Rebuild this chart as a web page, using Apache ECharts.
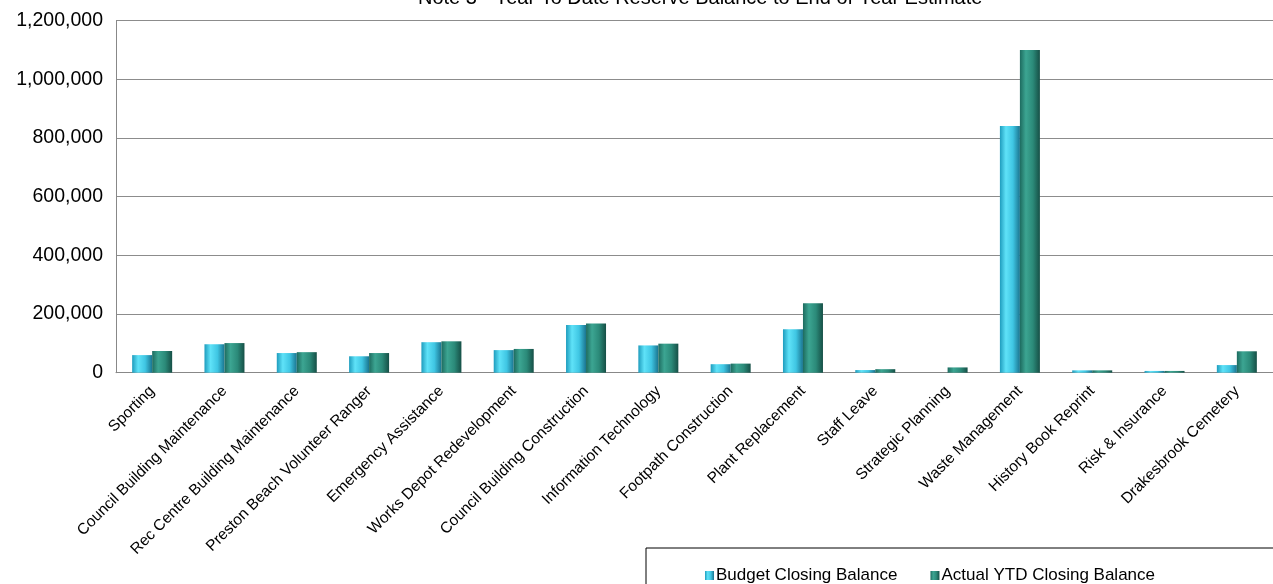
<!DOCTYPE html>
<html>
<head>
<meta charset="utf-8">
<script src="https://cdn.jsdelivr.net/npm/echarts@6/dist/echarts.min.js"></script>
<style>
html,body{margin:0;padding:0;background:#fff;}
#chart{width:1273px;height:584px;}
</style>
</head>
<body>
<div id="chart"></div>
<script>
const titleText = 'Note 3 - Year To Date Reserve Balance to End of Year Estimate';
const categories = ['Sporting','Council Building Maintenance','Rec Centre Building Maintenance','Preston Beach Volunteer Ranger','Emergency Assistance','Works Depot Redevelopment','Council Building Construction','Information Technology','Footpath Construction','Plant Replacement','Staff Leave','Strategic Planning','Waste Management','History Book Reprint','Risk & Insurance','Drakesbrook Cemetery'];
const seriesNames = ['Budget Closing Balance','Actual YTD Closing Balance'];
const budgetValues = [60000, 97000, 67000, 56000, 104000, 77000, 163000, 93000, 29000, 148000, 9000, 0, 841000, 8000, 6000, 26000];
const actualValues = [74000, 101000, 70000, 67000, 107000, 81000, 168000, 99000, 31000, 237000, 12000, 18000, 1100000, 8000, 6000, 73000];
const yTicks = [0, 200000, 400000, 600000, 800000, 1000000, 1200000];

const FONT = "'Liberation Sans', Arial, sans-serif";
function grad(stops){
  return new echarts.graphic.LinearGradient(0,0,1,0, stops.map(s=>({offset:s[0],color:s[1]})));
}
const budgetColor = grad([[0,'#1e9cbd'],[0.3,'#5fe2f8'],[0.65,'#3fc6e3'],[1,'#1a7590']]);
const actualColor = grad([[0,'#1d6b5f'],[0.3,'#3ca592'],[0.65,'#2b8a79'],[1,'#164f46']]);

const chart = echarts.init(document.getElementById('chart'));
chart.setOption({
  animation:false,
  backgroundColor:'#ffffff',
  title:{
    text:titleText, left:418, top:-12, padding:0,
    textStyle:{fontFamily:FONT, fontSize:20, fontWeight:'normal', color:'#000'}
  },
  legend:{
    data:seriesNames, left:646, top:548, width:800,
    padding:[19,160,30,59], borderColor:'#000', borderWidth:1,
    itemGap:33, itemWidth:9, itemHeight:9, icon:'rect',
    textStyle:{fontFamily:FONT, fontSize:17, color:'#000', padding:[0,0,0,-3]}
  },
  grid:{left:116, right:0, top:20.7, bottom:211.3, containLabel:false},
  xAxis:{
    type:'category', data:categories,
    axisLine:{lineStyle:{color:'#888', width:1}},
    axisTick:{show:false},
    axisLabel:{rotate:45, interval:0, margin:16, fontFamily:FONT, fontSize:15.5, color:'#000'}
  },
  yAxis:{
    type:'value', min:yTicks[0], max:yTicks[yTicks.length-1], interval:yTicks[1]-yTicks[0],
    axisLine:{show:true, lineStyle:{color:'#888', width:1}},
    axisTick:{show:false},
    splitLine:{lineStyle:{color:'#8c8c8c', width:1.2}},
    axisLabel:{margin:13, fontFamily:FONT, fontSize:19.5, color:'#000',
      formatter:v=>v.toLocaleString('en-US')}
  },
  series:[
    {name:seriesNames[0], type:'bar', data:budgetValues, barWidth:20, barGap:'0%',
     itemStyle:{color:budgetColor}},
    {name:seriesNames[1], type:'bar', data:actualValues, barWidth:20, barGap:'0%',
     itemStyle:{color:actualColor}}
  ]
});
</script>
</body>
</html>
